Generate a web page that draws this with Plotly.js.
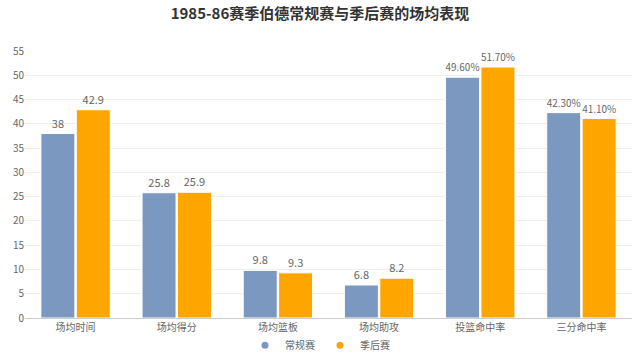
<!DOCTYPE html>
<html><head><meta charset="utf-8">
<script src="https://cdn.plot.ly/plotly-3.0.1.min.js"></script>
<style>html,body{margin:0;padding:0;background:#fff}#c{width:640px;height:356px}</style>
</head><body><div id="c"></div>
<script>
const categories = ['场均时间','场均得分','场均篮板','场均助攻','投篮命中率','三分命中率'];
const isPercent = [false,false,false,false,true,true];
const regular = [38, 25.8, 9.8, 6.8, 49.6, 42.3];
const playoffs = [42.9, 25.9, 9.3, 8.2, 51.7, 41.1];
const seriesNames = ['常规赛','季后赛'];
const colors = ['#7b98c1','#ffa500'];
const yTicks = [0,5,10,15,20,25,30,35,40,45,50,55];

function labels(vals){
  return vals.map((v,i)=> isPercent[i] ? v.toFixed(2)+'%' : String(v));
}
const font = "'Noto Sans CJK SC', 'Microsoft YaHei', sans-serif";
const traces = [regular, playoffs].map((vals,k)=>({
  type:'bar', x:categories, y:vals, name:seriesNames[k],
  marker:{color:colors[k], line:{color:'#ffffff', width:1}},
  text:labels(vals), textposition:'outside', cliponaxis:false,
  textfont:{color:'#666', size:11, family:font},
  showlegend:false, hoverinfo:'x+y'
}));
seriesNames.forEach((n,k)=>traces.push({
  type:'scatter', mode:'markers', x:[null], y:[null], name:n,
  marker:{color:colors[k], size:7, symbol:'circle'}, showlegend:true
}));
const layout = {
  width:640, height:356,
  margin:{l:25, r:8, t:51, b:38, autoexpand:false},
  paper_bgcolor:'#fff', plot_bgcolor:'#fff',
  font:{family:font, color:'#666', size:11},
  title:{text:'<b>1985-86赛季伯德常规赛与季后赛的场均表现</b>', x:0.5, xanchor:'center', y:0.96, yanchor:'middle', font:{size:15, color:'#333', family:font}},
  barmode:'group', bargap:0.3, bargroupgap:0.04,
  xaxis:{showgrid:false, showline:true, linecolor:'#ccc', ticks:'', tickfont:{size:10, color:'#666'}, fixedrange:true},
  yaxis:{range:[0,55], tickvals:yTicks, showgrid:true, gridcolor:'#eeeeee', zeroline:false, showline:false, tickfont:{size:10, color:'#666'}, ticklen:0, ticks:''},
  legend:{orientation:'h', x:0.5, xanchor:'center', xref:'container', yref:'container', y:0.03, yanchor:'middle', bgcolor:'rgba(0,0,0,0)', font:{size:10, color:'#666'}, itemwidth:30, tracegroupgap:0}
};
Plotly.newPlot('c', traces, layout, {displayModeBar:false, staticPlot:true});
</script></body></html>
